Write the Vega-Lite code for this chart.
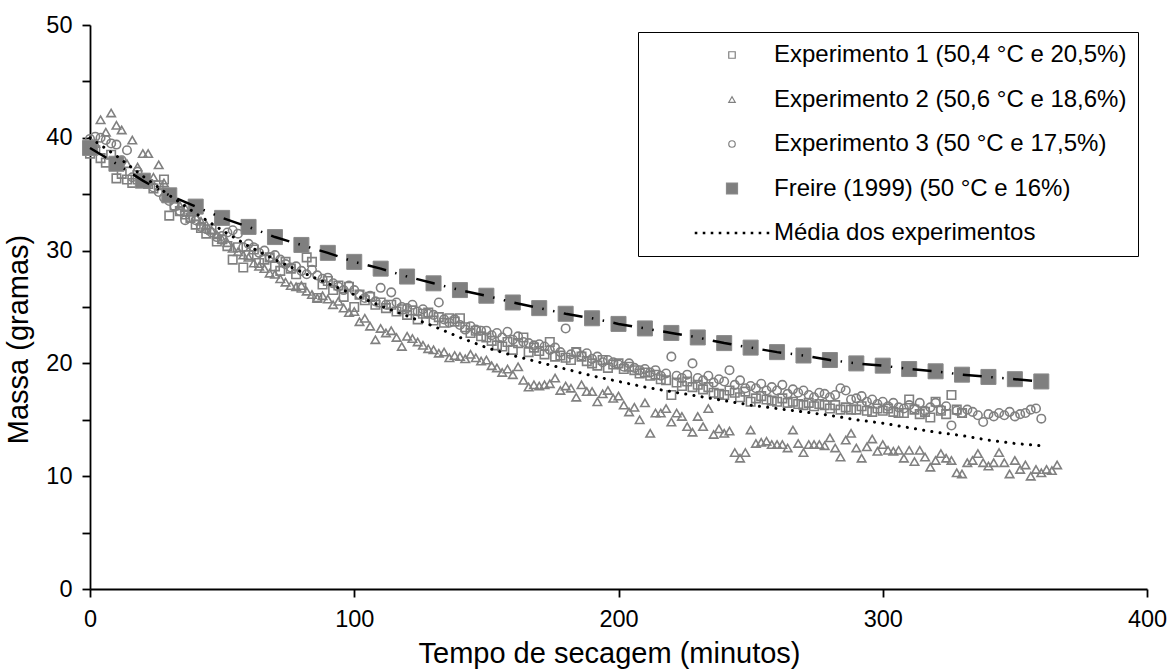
{
"$schema": "https://vega.github.io/schema/vega-lite/v6.json",
"width": 1057, "height": 564,
"autosize": {"type": "none"},
"padding": {"left": 90, "top": 25, "right": 24, "bottom": 80},
"background": "white",
"config": {
  "view": {"stroke": null},
  "font": "Liberation Sans",
  "axis": {"grid": false, "domainColor": "black", "domainWidth": 1.8, "tickColor": "black", "tickWidth": 1.8, "tickSize": 8, "labelFlush": false,
    "labelFont": "Liberation Sans", "labelFontSize": 23.5, "labelColor": "black", "titleFont": "Liberation Sans", "titleFontSize": 29, "titleFontWeight": "normal", "titleColor": "black"}
},
"datasets": {
  "exp": [
{"s":"E1","t":0,"m":38.6},{"s":"E1","t":2,"m":38.9},{"s":"E1","t":4,"m":38.2},{"s":"E1","t":6,"m":37.8},{"s":"E1","t":8,"m":38.5},
{"s":"E1","t":10,"m":36.4},{"s":"E1","t":12,"m":36.8},{"s":"E1","t":14,"m":36.3},{"s":"E1","t":16,"m":36.0},{"s":"E1","t":18,"m":36.3},
{"s":"E1","t":20,"m":36.2},{"s":"E1","t":22,"m":35.9},{"s":"E1","t":24,"m":35.5},{"s":"E1","t":26,"m":35.8},{"s":"E1","t":28,"m":36.3},
{"s":"E1","t":30,"m":33.1},{"s":"E1","t":32,"m":34.0},{"s":"E1","t":34,"m":33.5},{"s":"E1","t":36,"m":33.2},{"s":"E1","t":38,"m":32.9},
{"s":"E1","t":40,"m":32.3},{"s":"E1","t":42,"m":32.0},{"s":"E1","t":44,"m":31.5},{"s":"E1","t":46,"m":31.9},{"s":"E1","t":48,"m":30.8},
{"s":"E1","t":50,"m":31.0},{"s":"E1","t":52,"m":30.4},{"s":"E1","t":54,"m":29.2},{"s":"E1","t":56,"m":30.3},{"s":"E1","t":58,"m":28.5},
{"s":"E1","t":60,"m":29.6},{"s":"E1","t":62,"m":30.1},{"s":"E1","t":64,"m":28.9},{"s":"E1","t":66,"m":29.2},{"s":"E1","t":68,"m":29.4},
{"s":"E1","t":70,"m":28.6},{"s":"E1","t":72,"m":28.2},{"s":"E1","t":74,"m":29.0},{"s":"E1","t":76,"m":28.4},{"s":"E1","t":78,"m":27.9},
{"s":"E1","t":80,"m":26.7},{"s":"E1","t":82,"m":29.4},{"s":"E1","t":84,"m":29.0},{"s":"E1","t":86,"m":25.8},{"s":"E1","t":88,"m":27.0},
{"s":"E1","t":90,"m":27.3},{"s":"E1","t":92,"m":26.5},{"s":"E1","t":94,"m":26.9},{"s":"E1","t":96,"m":25.9},{"s":"E1","t":98,"m":26.8},
{"s":"E1","t":100,"m":25.0},{"s":"E1","t":102,"m":26.1},{"s":"E1","t":104,"m":25.6},{"s":"E1","t":106,"m":25.9},{"s":"E1","t":108,"m":25.2},
{"s":"E1","t":110,"m":25.4},{"s":"E1","t":112,"m":24.9},{"s":"E1","t":114,"m":25.2},{"s":"E1","t":116,"m":24.6},{"s":"E1","t":118,"m":24.8},
{"s":"E1","t":120,"m":24.3},{"s":"E1","t":122,"m":24.7},{"s":"E1","t":124,"m":23.9},{"s":"E1","t":126,"m":24.4},{"s":"E1","t":128,"m":24.5},
{"s":"E1","t":130,"m":23.8},{"s":"E1","t":132,"m":24.1},{"s":"E1","t":134,"m":23.6},{"s":"E1","t":136,"m":24.0},{"s":"E1","t":138,"m":23.7},
{"s":"E1","t":140,"m":24.0},{"s":"E1","t":142,"m":23.2},{"s":"E1","t":144,"m":22.7},{"s":"E1","t":146,"m":22.9},{"s":"E1","t":148,"m":22.4},
{"s":"E1","t":150,"m":22.3},{"s":"E1","t":152,"m":22.0},{"s":"E1","t":154,"m":21.6},{"s":"E1","t":156,"m":21.5},{"s":"E1","t":158,"m":21.9},
{"s":"E1","t":160,"m":21.2},{"s":"E1","t":162,"m":21.8},{"s":"E1","t":164,"m":22.3},{"s":"E1","t":166,"m":21.0},{"s":"E1","t":168,"m":21.4},
{"s":"E1","t":170,"m":21.1},{"s":"E1","t":172,"m":20.8},{"s":"E1","t":174,"m":21.9},{"s":"E1","t":176,"m":20.6},{"s":"E1","t":178,"m":20.7},
{"s":"E1","t":180,"m":20.5},{"s":"E1","t":182,"m":20.3},{"s":"E1","t":184,"m":21.0},{"s":"E1","t":186,"m":20.6},{"s":"E1","t":188,"m":20.2},
{"s":"E1","t":190,"m":20.0},{"s":"E1","t":192,"m":19.8},{"s":"E1","t":194,"m":20.3},{"s":"E1","t":196,"m":19.6},{"s":"E1","t":198,"m":19.9},
{"s":"E1","t":200,"m":20.0},{"s":"E1","t":202,"m":19.5},{"s":"E1","t":204,"m":19.7},{"s":"E1","t":206,"m":19.4},{"s":"E1","t":208,"m":19.1},
{"s":"E1","t":210,"m":19.2},{"s":"E1","t":212,"m":18.9},{"s":"E1","t":214,"m":19.0},{"s":"E1","t":216,"m":18.6},{"s":"E1","t":218,"m":18.5},
{"s":"E1","t":220,"m":17.2},{"s":"E1","t":222,"m":18.3},{"s":"E1","t":224,"m":18.0},{"s":"E1","t":226,"m":18.4},{"s":"E1","t":228,"m":17.9},
{"s":"E1","t":230,"m":18.1},{"s":"E1","t":232,"m":17.7},{"s":"E1","t":234,"m":17.9},{"s":"E1","t":236,"m":17.4},{"s":"E1","t":238,"m":17.3},
{"s":"E1","t":240,"m":17.2},{"s":"E1","t":242,"m":17.6},{"s":"E1","t":244,"m":17.4},{"s":"E1","t":246,"m":17.0},{"s":"E1","t":248,"m":17.5},
{"s":"E1","t":250,"m":16.6},{"s":"E1","t":252,"m":16.9},{"s":"E1","t":254,"m":17.1},{"s":"E1","t":256,"m":16.8},{"s":"E1","t":258,"m":16.7},
{"s":"E1","t":260,"m":16.6},{"s":"E1","t":262,"m":16.9},{"s":"E1","t":264,"m":16.5},{"s":"E1","t":266,"m":16.6},{"s":"E1","t":268,"m":16.4},
{"s":"E1","t":270,"m":16.3},{"s":"E1","t":272,"m":16.5},{"s":"E1","t":274,"m":16.2},{"s":"E1","t":276,"m":16.4},{"s":"E1","t":278,"m":16.3},
{"s":"E1","t":280,"m":16.0},{"s":"E1","t":282,"m":16.3},{"s":"E1","t":284,"m":15.9},{"s":"E1","t":286,"m":16.1},{"s":"E1","t":288,"m":15.9},
{"s":"E1","t":290,"m":15.9},{"s":"E1","t":292,"m":16.2},{"s":"E1","t":294,"m":15.8},{"s":"E1","t":296,"m":15.7},{"s":"E1","t":298,"m":16.0},
{"s":"E1","t":300,"m":15.8},{"s":"E1","t":302,"m":16.0},{"s":"E1","t":304,"m":15.7},{"s":"E1","t":306,"m":15.6},{"s":"E1","t":308,"m":15.6},
{"s":"E1","t":310,"m":16.8},{"s":"E1","t":312,"m":15.9},{"s":"E1","t":314,"m":15.5},{"s":"E1","t":316,"m":15.7},{"s":"E1","t":318,"m":15.2},
{"s":"E1","t":320,"m":16.6},{"s":"E1","t":322,"m":15.8},{"s":"E1","t":324,"m":15.5},{"s":"E1","t":326,"m":17.2},{"s":"E1","t":328,"m":15.9},
{"s":"E1","t":330,"m":15.6},

{"s":"E2","t":0,"m":38.8},{"s":"E2","t":2,"m":39.5},{"s":"E2","t":4,"m":41.6},{"s":"E2","t":6,"m":40.5},{"s":"E2","t":8,"m":42.2},
{"s":"E2","t":10,"m":41.1},{"s":"E2","t":12,"m":40.7},{"s":"E2","t":14,"m":37.7},{"s":"E2","t":16,"m":39.8},{"s":"E2","t":18,"m":37.4},
{"s":"E2","t":20,"m":38.6},{"s":"E2","t":22,"m":38.6},{"s":"E2","t":24,"m":36.5},{"s":"E2","t":26,"m":37.6},{"s":"E2","t":28,"m":36.0},
{"s":"E2","t":30,"m":35.0},{"s":"E2","t":32,"m":34.6},{"s":"E2","t":34,"m":34.0},{"s":"E2","t":36,"m":33.8},{"s":"E2","t":38,"m":33.4},
{"s":"E2","t":40,"m":33.0},{"s":"E2","t":42,"m":32.6},{"s":"E2","t":44,"m":32.3},{"s":"E2","t":46,"m":31.8},{"s":"E2","t":48,"m":31.4},
{"s":"E2","t":50,"m":31.0},{"s":"E2","t":52,"m":30.7},{"s":"E2","t":54,"m":30.2},{"s":"E2","t":56,"m":29.9},{"s":"E2","t":58,"m":29.6},
{"s":"E2","t":60,"m":29.4},{"s":"E2","t":62,"m":28.9},{"s":"E2","t":64,"m":28.6},{"s":"E2","t":66,"m":28.4},{"s":"E2","t":68,"m":28.0},
{"s":"E2","t":70,"m":27.9},{"s":"E2","t":72,"m":27.5},{"s":"E2","t":74,"m":27.2},{"s":"E2","t":76,"m":26.9},{"s":"E2","t":78,"m":26.8},
{"s":"E2","t":80,"m":26.9},{"s":"E2","t":82,"m":26.4},{"s":"E2","t":84,"m":26.1},{"s":"E2","t":86,"m":25.8},{"s":"E2","t":88,"m":26.0},
{"s":"E2","t":90,"m":25.7},{"s":"E2","t":92,"m":25.2},{"s":"E2","t":94,"m":25.5},{"s":"E2","t":96,"m":24.9},{"s":"E2","t":98,"m":24.5},
{"s":"E2","t":100,"m":24.6},{"s":"E2","t":102,"m":23.7},{"s":"E2","t":104,"m":24.0},{"s":"E2","t":106,"m":23.3},{"s":"E2","t":108,"m":22.1},
{"s":"E2","t":110,"m":23.1},{"s":"E2","t":112,"m":22.7},{"s":"E2","t":114,"m":22.9},{"s":"E2","t":116,"m":22.3},{"s":"E2","t":118,"m":21.5},
{"s":"E2","t":120,"m":22.4},{"s":"E2","t":122,"m":22.2},{"s":"E2","t":124,"m":21.9},{"s":"E2","t":126,"m":21.6},{"s":"E2","t":128,"m":21.3},
{"s":"E2","t":130,"m":21.2},{"s":"E2","t":132,"m":20.9},{"s":"E2","t":134,"m":21.0},{"s":"E2","t":136,"m":20.5},{"s":"E2","t":138,"m":20.7},
{"s":"E2","t":140,"m":20.6},{"s":"E2","t":142,"m":20.4},{"s":"E2","t":144,"m":20.8},{"s":"E2","t":146,"m":20.5},{"s":"E2","t":148,"m":20.2},
{"s":"E2","t":150,"m":20.3},{"s":"E2","t":152,"m":19.8},{"s":"E2","t":154,"m":19.6},{"s":"E2","t":156,"m":19.2},{"s":"E2","t":158,"m":19.5},
{"s":"E2","t":160,"m":19.0},{"s":"E2","t":162,"m":19.7},{"s":"E2","t":164,"m":18.5},{"s":"E2","t":166,"m":17.9},{"s":"E2","t":168,"m":18.1},
{"s":"E2","t":170,"m":18.0},{"s":"E2","t":172,"m":18.1},{"s":"E2","t":174,"m":18.2},{"s":"E2","t":176,"m":18.7},{"s":"E2","t":178,"m":17.6},
{"s":"E2","t":180,"m":18.0},{"s":"E2","t":182,"m":17.8},{"s":"E2","t":184,"m":17.0},{"s":"E2","t":186,"m":18.1},{"s":"E2","t":188,"m":17.5},
{"s":"E2","t":190,"m":17.5},{"s":"E2","t":192,"m":16.6},{"s":"E2","t":194,"m":17.3},{"s":"E2","t":196,"m":17.6},{"s":"E2","t":198,"m":16.9},
{"s":"E2","t":200,"m":17.1},{"s":"E2","t":202,"m":16.3},{"s":"E2","t":204,"m":15.7},{"s":"E2","t":206,"m":16.1},{"s":"E2","t":208,"m":15.0},
{"s":"E2","t":210,"m":16.5},{"s":"E2","t":212,"m":13.8},{"s":"E2","t":214,"m":15.6},{"s":"E2","t":216,"m":15.6},{"s":"E2","t":218,"m":16.0},
{"s":"E2","t":220,"m":14.8},{"s":"E2","t":222,"m":15.6},{"s":"E2","t":224,"m":15.3},{"s":"E2","t":226,"m":14.4},{"s":"E2","t":228,"m":13.9},
{"s":"E2","t":230,"m":15.3},{"s":"E2","t":232,"m":14.4},{"s":"E2","t":234,"m":16.0},{"s":"E2","t":236,"m":13.7},{"s":"E2","t":238,"m":14.2},
{"s":"E2","t":240,"m":13.8},{"s":"E2","t":242,"m":14.0},{"s":"E2","t":244,"m":12.1},{"s":"E2","t":246,"m":11.6},{"s":"E2","t":248,"m":12.1},
{"s":"E2","t":250,"m":14.1},{"s":"E2","t":252,"m":12.9},{"s":"E2","t":254,"m":13.0},{"s":"E2","t":256,"m":13.1},{"s":"E2","t":258,"m":12.8},
{"s":"E2","t":260,"m":12.8},{"s":"E2","t":262,"m":12.8},{"s":"E2","t":264,"m":12.5},{"s":"E2","t":266,"m":14.1},{"s":"E2","t":268,"m":12.9},
{"s":"E2","t":270,"m":12.1},{"s":"E2","t":272,"m":12.8},{"s":"E2","t":274,"m":12.8},{"s":"E2","t":276,"m":12.8},{"s":"E2","t":278,"m":12.7},
{"s":"E2","t":280,"m":13.4},{"s":"E2","t":282,"m":12.5},{"s":"E2","t":284,"m":11.7},{"s":"E2","t":286,"m":13.2},{"s":"E2","t":288,"m":13.8},
{"s":"E2","t":290,"m":12.5},{"s":"E2","t":292,"m":11.6},{"s":"E2","t":294,"m":12.6},{"s":"E2","t":296,"m":13.3},{"s":"E2","t":298,"m":12.2},
{"s":"E2","t":300,"m":12.8},{"s":"E2","t":302,"m":12.3},{"s":"E2","t":304,"m":12.2},{"s":"E2","t":306,"m":12.3},{"s":"E2","t":308,"m":11.6},
{"s":"E2","t":310,"m":12.3},{"s":"E2","t":312,"m":11.3},{"s":"E2","t":314,"m":12.3},{"s":"E2","t":316,"m":11.7},{"s":"E2","t":318,"m":10.8},
{"s":"E2","t":320,"m":11.4},{"s":"E2","t":322,"m":12.0},{"s":"E2","t":324,"m":11.6},{"s":"E2","t":326,"m":11.4},{"s":"E2","t":328,"m":10.3},
{"s":"E2","t":330,"m":10.2},{"s":"E2","t":332,"m":11.2},{"s":"E2","t":334,"m":11.4},{"s":"E2","t":336,"m":12.0},{"s":"E2","t":338,"m":11.2},
{"s":"E2","t":340,"m":10.9},{"s":"E2","t":342,"m":11.2},{"s":"E2","t":344,"m":12.1},{"s":"E2","t":346,"m":11.2},{"s":"E2","t":348,"m":10.2},
{"s":"E2","t":350,"m":11.4},{"s":"E2","t":352,"m":10.6},{"s":"E2","t":354,"m":11.0},{"s":"E2","t":356,"m":10.0},{"s":"E2","t":358,"m":10.6},
{"s":"E2","t":360,"m":10.3},{"s":"E2","t":362,"m":10.6},{"s":"E2","t":364,"m":10.5},{"s":"E2","t":366,"m":11.0},

{"s":"E3","t":0,"m":39.9},{"s":"E3","t":2,"m":40.1},{"s":"E3","t":4,"m":40.0},{"s":"E3","t":6,"m":39.8},{"s":"E3","t":8,"m":39.5},
{"s":"E3","t":10,"m":39.4},{"s":"E3","t":12,"m":38.0},{"s":"E3","t":14,"m":38.9},{"s":"E3","t":16,"m":36.5},{"s":"E3","t":18,"m":37.0},
{"s":"E3","t":20,"m":36.3},{"s":"E3","t":22,"m":36.0},{"s":"E3","t":24,"m":35.6},{"s":"E3","t":26,"m":35.2},{"s":"E3","t":28,"m":34.7},
{"s":"E3","t":30,"m":34.4},{"s":"E3","t":32,"m":33.9},{"s":"E3","t":34,"m":33.5},{"s":"E3","t":36,"m":32.7},{"s":"E3","t":38,"m":32.9},
{"s":"E3","t":40,"m":32.7},{"s":"E3","t":42,"m":32.1},{"s":"E3","t":44,"m":31.9},{"s":"E3","t":46,"m":31.6},{"s":"E3","t":48,"m":31.2},
{"s":"E3","t":50,"m":31.3},{"s":"E3","t":52,"m":31.6},{"s":"E3","t":54,"m":31.8},{"s":"E3","t":56,"m":31.5},{"s":"E3","t":58,"m":30.3},
{"s":"E3","t":60,"m":30.6},{"s":"E3","t":62,"m":30.3},{"s":"E3","t":64,"m":29.8},{"s":"E3","t":66,"m":30.0},{"s":"E3","t":68,"m":29.4},
{"s":"E3","t":70,"m":29.6},{"s":"E3","t":72,"m":29.2},{"s":"E3","t":74,"m":28.8},{"s":"E3","t":76,"m":28.5},{"s":"E3","t":78,"m":28.6},
{"s":"E3","t":80,"m":28.2},{"s":"E3","t":82,"m":27.9},{"s":"E3","t":84,"m":28.3},{"s":"E3","t":86,"m":27.8},{"s":"E3","t":88,"m":27.5},
{"s":"E3","t":90,"m":27.6},{"s":"E3","t":92,"m":27.1},{"s":"E3","t":94,"m":26.8},{"s":"E3","t":96,"m":26.5},{"s":"E3","t":98,"m":26.9},
{"s":"E3","t":100,"m":26.5},{"s":"E3","t":102,"m":26.1},{"s":"E3","t":104,"m":25.8},{"s":"E3","t":106,"m":26.0},{"s":"E3","t":108,"m":25.5},
{"s":"E3","t":110,"m":26.7},{"s":"E3","t":112,"m":25.2},{"s":"E3","t":114,"m":26.3},{"s":"E3","t":116,"m":25.4},{"s":"E3","t":118,"m":25.0},
{"s":"E3","t":120,"m":24.9},{"s":"E3","t":122,"m":25.2},{"s":"E3","t":124,"m":24.6},{"s":"E3","t":126,"m":24.8},{"s":"E3","t":128,"m":24.4},
{"s":"E3","t":130,"m":24.3},{"s":"E3","t":132,"m":25.4},{"s":"E3","t":134,"m":23.9},{"s":"E3","t":136,"m":23.6},{"s":"E3","t":138,"m":23.9},
{"s":"E3","t":140,"m":23.4},{"s":"E3","t":142,"m":23.0},{"s":"E3","t":144,"m":23.3},{"s":"E3","t":146,"m":23.0},{"s":"E3","t":148,"m":22.9},
{"s":"E3","t":150,"m":22.9},{"s":"E3","t":152,"m":22.5},{"s":"E3","t":154,"m":22.7},{"s":"E3","t":156,"m":22.3},{"s":"E3","t":158,"m":22.8},
{"s":"E3","t":160,"m":22.1},{"s":"E3","t":162,"m":22.4},{"s":"E3","t":164,"m":21.9},{"s":"E3","t":166,"m":21.8},{"s":"E3","t":168,"m":21.6},
{"s":"E3","t":170,"m":21.7},{"s":"E3","t":172,"m":21.5},{"s":"E3","t":174,"m":21.2},{"s":"E3","t":176,"m":21.4},{"s":"E3","t":178,"m":21.0},
{"s":"E3","t":180,"m":23.1},{"s":"E3","t":182,"m":20.8},{"s":"E3","t":184,"m":21.0},{"s":"E3","t":186,"m":20.7},{"s":"E3","t":188,"m":20.9},
{"s":"E3","t":190,"m":20.4},{"s":"E3","t":192,"m":20.6},{"s":"E3","t":194,"m":20.1},{"s":"E3","t":196,"m":20.3},{"s":"E3","t":198,"m":20.1},
{"s":"E3","t":200,"m":19.9},{"s":"E3","t":202,"m":19.7},{"s":"E3","t":204,"m":20.0},{"s":"E3","t":206,"m":19.6},{"s":"E3","t":208,"m":19.4},
{"s":"E3","t":210,"m":19.5},{"s":"E3","t":212,"m":19.2},{"s":"E3","t":214,"m":19.4},{"s":"E3","t":216,"m":18.9},{"s":"E3","t":218,"m":19.1},
{"s":"E3","t":220,"m":20.6},{"s":"E3","t":222,"m":18.9},{"s":"E3","t":224,"m":18.7},{"s":"E3","t":226,"m":19.0},{"s":"E3","t":228,"m":20.0},
{"s":"E3","t":230,"m":18.7},{"s":"E3","t":232,"m":18.5},{"s":"E3","t":234,"m":18.9},{"s":"E3","t":236,"m":18.3},{"s":"E3","t":238,"m":18.6},
{"s":"E3","t":240,"m":18.4},{"s":"E3","t":242,"m":19.4},{"s":"E3","t":244,"m":18.1},{"s":"E3","t":246,"m":18.5},{"s":"E3","t":248,"m":17.8},
{"s":"E3","t":250,"m":18.0},{"s":"E3","t":252,"m":17.8},{"s":"E3","t":254,"m":18.2},{"s":"E3","t":256,"m":17.6},{"s":"E3","t":258,"m":17.9},
{"s":"E3","t":260,"m":17.6},{"s":"E3","t":262,"m":18.1},{"s":"E3","t":264,"m":17.3},{"s":"E3","t":266,"m":17.7},{"s":"E3","t":268,"m":17.4},
{"s":"E3","t":270,"m":17.6},{"s":"E3","t":272,"m":17.2},{"s":"E3","t":274,"m":17.0},{"s":"E3","t":276,"m":17.4},{"s":"E3","t":278,"m":17.3},
{"s":"E3","t":280,"m":17.0},{"s":"E3","t":282,"m":17.2},{"s":"E3","t":284,"m":17.8},{"s":"E3","t":286,"m":17.6},{"s":"E3","t":288,"m":16.8},
{"s":"E3","t":290,"m":16.9},{"s":"E3","t":292,"m":17.1},{"s":"E3","t":294,"m":16.6},{"s":"E3","t":296,"m":16.8},{"s":"E3","t":298,"m":16.4},
{"s":"E3","t":300,"m":16.6},{"s":"E3","t":302,"m":16.2},{"s":"E3","t":304,"m":16.5},{"s":"E3","t":306,"m":16.1},{"s":"E3","t":308,"m":16.0},
{"s":"E3","t":310,"m":16.3},{"s":"E3","t":312,"m":16.0},{"s":"E3","t":314,"m":16.5},{"s":"E3","t":316,"m":15.8},{"s":"E3","t":318,"m":16.1},
{"s":"E3","t":320,"m":16.5},{"s":"E3","t":322,"m":15.9},{"s":"E3","t":324,"m":16.2},{"s":"E3","t":326,"m":14.5},{"s":"E3","t":328,"m":15.8},
{"s":"E3","t":330,"m":15.6},{"s":"E3","t":332,"m":15.9},{"s":"E3","t":334,"m":15.7},{"s":"E3","t":336,"m":15.4},{"s":"E3","t":338,"m":14.8},
{"s":"E3","t":340,"m":15.5},{"s":"E3","t":342,"m":15.3},{"s":"E3","t":344,"m":15.6},{"s":"E3","t":346,"m":15.4},{"s":"E3","t":348,"m":15.7},
{"s":"E3","t":350,"m":15.3},{"s":"E3","t":352,"m":15.5},{"s":"E3","t":354,"m":15.6},{"s":"E3","t":356,"m":15.9},{"s":"E3","t":358,"m":16.0},
{"s":"E3","t":360,"m":15.1}
  ],
  "freire": [
{"s":"F","t":0,"m":39.1},{"s":"F","t":10,"m":37.7},{"s":"F","t":20,"m":36.2},{"s":"F","t":30,"m":34.9},{"s":"F","t":40,"m":33.9},
{"s":"F","t":50,"m":32.9},{"s":"F","t":60,"m":32.1},{"s":"F","t":70,"m":31.2},{"s":"F","t":80,"m":30.5},{"s":"F","t":90,"m":29.8},
{"s":"F","t":100,"m":29.0},{"s":"F","t":110,"m":28.4},{"s":"F","t":120,"m":27.7},{"s":"F","t":130,"m":27.1},{"s":"F","t":140,"m":26.5},
{"s":"F","t":150,"m":26.0},{"s":"F","t":160,"m":25.4},{"s":"F","t":170,"m":24.9},{"s":"F","t":180,"m":24.4},{"s":"F","t":190,"m":24.0},
{"s":"F","t":200,"m":23.5},{"s":"F","t":210,"m":23.1},{"s":"F","t":220,"m":22.7},{"s":"F","t":230,"m":22.3},{"s":"F","t":240,"m":21.8},
{"s":"F","t":250,"m":21.4},{"s":"F","t":260,"m":21.0},{"s":"F","t":270,"m":20.7},{"s":"F","t":280,"m":20.3},{"s":"F","t":290,"m":20.0},
{"s":"F","t":300,"m":19.8},{"s":"F","t":310,"m":19.5},{"s":"F","t":320,"m":19.3},{"s":"F","t":330,"m":19.0},{"s":"F","t":340,"m":18.8},
{"s":"F","t":350,"m":18.6},{"s":"F","t":360,"m":18.4}
  ],
  "media": [
{"t":0,"m":40.0},{"t":10,"m":38.4},{"t":20,"m":36.6},{"t":30,"m":34.9},{"t":40,"m":33.3},{"t":50,"m":31.8},{"t":60,"m":30.4},
{"t":70,"m":29.2},{"t":80,"m":28.1},{"t":90,"m":27.1},{"t":100,"m":26.1},{"t":110,"m":25.1},{"t":120,"m":24.2},{"t":130,"m":23.3},
{"t":140,"m":22.3},{"t":150,"m":21.4},{"t":160,"m":20.7},{"t":170,"m":20.1},{"t":180,"m":19.5},{"t":190,"m":18.9},{"t":200,"m":18.4},
{"t":210,"m":17.9},{"t":220,"m":17.5},{"t":230,"m":17.1},{"t":240,"m":16.7},{"t":250,"m":16.3},{"t":260,"m":16.0},{"t":270,"m":15.7},
{"t":280,"m":15.4},{"t":290,"m":15.0},{"t":300,"m":14.7},{"t":310,"m":14.3},{"t":320,"m":13.9},{"t":330,"m":13.6},{"t":340,"m":13.2},
{"t":350,"m":12.9},{"t":360,"m":12.7}
  ]
},
"encoding": {
  "x": {"field": "t", "type": "quantitative", "scale": {"domain": [0, 400], "nice": false},
        "axis": {"values": [0, 100, 200, 300, 400], "labelPadding": 10, "title": "Tempo de secagem (minutos)", "titleX": 519, "titleY": 64, "titleBaseline": "middle"}},
  "y": {"field": "m", "type": "quantitative", "scale": {"domain": [0, 50], "nice": false},
        "axis": {"values": [0, 5, 10, 15, 20, 25, 30, 35, 40, 45, 50], "labelExpr": "datum.value % 10 === 0 ? datum.label : ''", "labelPadding": 10, "title": "Massa (gramas)", "titleX": -72, "titleY": 314, "titleBaseline": "middle", "titleAngle": -90}}
},
"layer": [
  {
    "data": {"name": "exp"},
    "mark": {"type": "point", "size": 72, "strokeWidth": 1.6, "opacity": 1},
    "encoding": {
      "shape": {"field": "s", "type": "nominal",
        "scale": {"domain": ["E1", "E2", "E3", "F", "M"], "range": ["square", "triangle-up", "circle", "M-1.7,-1.7h3.4v3.4h-3.4z", "M-11.5,-0.4h0.8v0.8h-0.8zM-9.03,-0.4h0.8v0.8h-0.8zM-6.57,-0.4h0.8v0.8h-0.8zM-4.1,-0.4h0.8v0.8h-0.8zM-1.63,-0.4h0.8v0.8h-0.8zM0.83,-0.4h0.8v0.8h-0.8zM3.3,-0.4h0.8v0.8h-0.8zM5.77,-0.4h0.8v0.8h-0.8zM8.23,-0.4h0.8v0.8h-0.8zM10.7,-0.4h0.8v0.8h-0.8z"]},
        "legend": {
          "orient": "none", "legendX": 548, "legendY": 7, "title": null,
          "strokeColor": "black", "fillColor": "white", "padding": 11,
          "symbolOffset": 71, "labelOffset": 30, "rowPadding": 20.5,
          "symbolSize": 42, "symbolStrokeWidth": 1.2,
          "labelFont": "Liberation Sans", "labelFontSize": 24, "labelColor": "black", "labelLimit": 0,
          "labelExpr": "(datum.value === 'E1' ? 'Experimento 1 (50,4 °C e 20,5%)' : datum.value === 'E2' ? 'Experimento 2 (50,6 °C e 18,6%)' : datum.value === 'E3' ? 'Experimento 3 (50 °C e 17,5%)' : datum.value === 'F' ? 'Freire (1999) (50 °C e 16%)' : 'Média dos experimentos') + '\u00a0\u00a0'"
        }},
      "fill": {"field": "s", "type": "nominal", "scale": {"domain": ["E1", "E2", "E3", "F", "M"], "range": ["transparent", "transparent", "transparent", "#7f7f7f", "black"]}, "legend": null},
      "stroke": {"field": "s", "type": "nominal", "scale": {"domain": ["E1", "E2", "E3", "F", "M"], "range": ["#808080", "#808080", "#808080", "#8a8a8a", "transparent"]}, "legend": null}
    }
  },
  {
    "data": {"name": "freire"},
    "mark": {"type": "point", "size": 78, "strokeWidth": 1, "opacity": 1},
    "encoding": {
      "shape": {"field": "s", "type": "nominal"},
      "fill": {"field": "s", "type": "nominal", "legend": null},
      "stroke": {"field": "s", "type": "nominal", "legend": null}
    }
  },
  {
    "data": {"name": "freire"},
    "mark": {"type": "line", "stroke": "black", "strokeWidth": 2.5, "strokeDash": [19, 9.5, 1.5, 9.5, 1.5, 9.5]},
    "encoding": {}
  },
  {
    "data": {"name": "media"},
    "mark": {"type": "line", "stroke": "black", "strokeWidth": 3, "strokeDash": [0.1, 8.2], "strokeCap": "round"},
    "encoding": {}
  }
]
}
